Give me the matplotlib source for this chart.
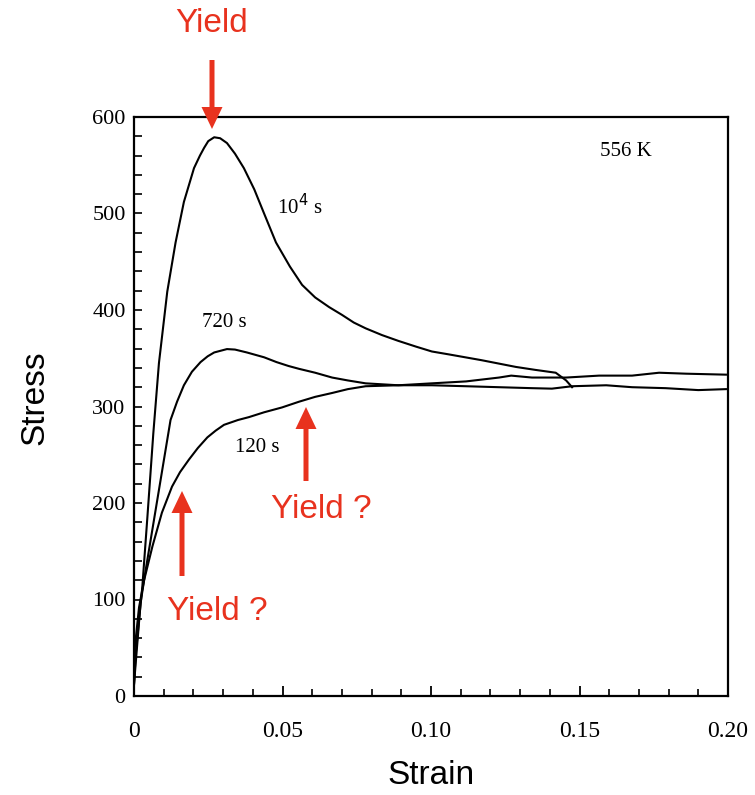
import matplotlib
matplotlib.use("Agg")
import matplotlib.pyplot as plt
from matplotlib.patches import FancyArrow
from matplotlib.ticker import MultipleLocator, FixedLocator

# ---- data ----
strain_1e4 = [0, 0.0006, 0.0028, 0.0045, 0.0065, 0.0084, 0.0112, 0.014, 0.0168, 0.0202,
              0.0222, 0.0236, 0.025, 0.027, 0.029, 0.0313, 0.034, 0.037, 0.0405, 0.0438,
              0.0478, 0.0525, 0.0566, 0.061, 0.0657, 0.070, 0.074, 0.078, 0.0835, 0.089,
              0.095, 0.1003, 0.106, 0.117, 0.1286, 0.135, 0.142, 0.1455, 0.1475]
stress_1e4 = [12, 44, 113, 185, 272, 345, 419, 470, 512, 547,
              560, 568, 575, 579, 578, 573, 562, 547, 525, 500,
              470, 445, 426, 413, 403, 395, 387, 381, 374, 368,
              362, 357, 354, 348, 341, 338, 335, 327, 320]

strain_720 = [0, 0.0022, 0.0039, 0.0067, 0.0095, 0.0123, 0.0145, 0.0168, 0.0195, 0.0224,
              0.0248, 0.027, 0.0313, 0.034, 0.038, 0.0438, 0.048, 0.052, 0.0556, 0.061,
              0.0667, 0.072, 0.078, 0.089, 0.1003, 0.1118, 0.1229, 0.134, 0.1407, 0.1475,
              0.159, 0.1677, 0.179, 0.190, 0.1993]
stress_720 = [12, 96, 130, 182, 234, 286, 305, 322, 336, 346,
              352, 356, 359.5, 359, 356, 351, 346, 342, 339, 335,
              330, 327, 324, 322, 322, 321, 320, 319, 318.5, 321,
              322, 320, 319, 317, 318]

strain_120 = [0, 0.0003, 0.0017, 0.0034, 0.0062, 0.0094, 0.0128, 0.0155, 0.0185, 0.0215,
              0.0247, 0.0275, 0.0303, 0.035, 0.0387, 0.0438, 0.0498, 0.0556, 0.061, 0.0667,
              0.072, 0.078, 0.089, 0.1003, 0.1118, 0.1229, 0.127, 0.134, 0.1455, 0.1566,
              0.1677, 0.1768, 0.1859, 0.1993]
stress_120 = [12, 51, 92, 120, 155, 190, 217, 232, 245, 257,
              268, 275, 281, 286, 289, 294, 299, 305, 310, 314,
              318, 321, 322, 324, 326, 330, 332, 330, 330, 332,
              332, 335, 334, 333]

xtick_vals = [0, 0.05, 0.10, 0.15, 0.20]
xtick_labels = ["0", "0.05", "0.10", "0.15", "0.20"]
ytick_vals = [0, 100, 200, 300, 400, 500, 600]

curve_labels = ["10$^4$ s", "720 s", "120 s"]
temp_label = "556 K"
yield_text = "Yield"
yield_q_text = "Yield ?"

# ---- figure ----
W, H = 755, 795
fig = plt.figure(figsize=(W / 100, H / 100), dpi=100)
fig.patch.set_facecolor("white")

def fx(px):
    return px / W

def fy(py):
    return 1 - py / H

ax = fig.add_axes([fx(134), fy(696), fx(728) - fx(134), fy(117) - fy(696)])
ax.set_xlim(0, 0.20)
ax.set_ylim(0, 600)

for x, y in [(strain_1e4, stress_1e4), (strain_720, stress_720), (strain_120, stress_120)]:
    ax.plot(x, y, color="black", lw=1.5, solid_joinstyle="round")

serif = ["Liberation Serif", "DejaVu Serif"]
sans = ["Liberation Sans", "DejaVu Sans"]

for sp in ax.spines.values():
    sp.set_linewidth(1.6)

ax.xaxis.set_major_locator(FixedLocator(xtick_vals))
ax.xaxis.set_minor_locator(MultipleLocator(0.01))
ax.yaxis.set_major_locator(FixedLocator(ytick_vals))
ax.yaxis.set_minor_locator(MultipleLocator(20))
ax.set_xticklabels(xtick_labels, fontfamily=serif, fontsize=17)
ax.set_yticklabels([str(v) for v in ytick_vals], fontfamily=serif, fontsize=16)
ax.tick_params(axis="x", which="major", direction="in", length=7, width=1.3, pad=18)
ax.tick_params(axis="x", which="minor", direction="in", length=5, width=1.2)
ax.tick_params(axis="y", which="both", direction="in", length=6, width=1.2, pad=6)
ax.tick_params(top=False, right=False, which="both")

# curve labels
ax.text(0.0481, 507, curve_labels[0], fontfamily=serif, fontsize=15, ha="left", va="center")
ax.text(0.0229, 387, curve_labels[1], fontfamily=serif, fontsize=15, ha="left", va="center")
ax.text(0.034, 257, curve_labels[2], fontfamily=serif, fontsize=15, ha="left", va="center")
ax.text(0.1657, 564, temp_label, fontfamily=serif, fontsize=15, ha="center", va="center")

# axis titles
fig.text(fx(35), fy(398), "Stress", rotation=90, fontfamily=sans, fontsize=24,
         ha="center", va="center")
fig.text(fx(431), fy(775), "Strain", fontfamily=sans, fontsize=24,
         ha="center", va="center")

# overlay for red annotations (pixel coordinates)
ov = fig.add_axes([0, 0, 1, 1], facecolor="none")
ov.set_xlim(0, W)
ov.set_ylim(H, 0)
ov.axis("off")
red = "#e8321e"

def arrow(x, y0, y1):
    ov.add_patch(FancyArrow(x, y0, 0, y1 - y0, width=5, head_width=21, head_length=22,
                            length_includes_head=True, color=red, lw=0))

arrow(212, 60, 129)
arrow(182, 576, 491)
arrow(306, 481, 407)

ov.text(212, 23, yield_text, color=red, fontfamily=sans, fontsize=24, ha="center", va="center")
ov.text(217, 612, yield_q_text, color=red, fontfamily=sans, fontsize=24, ha="center", va="center")
ov.text(321, 510, yield_q_text, color=red, fontfamily=sans, fontsize=24, ha="center", va="center")

fig.savefig("out.png", dpi=100, facecolor="white")
